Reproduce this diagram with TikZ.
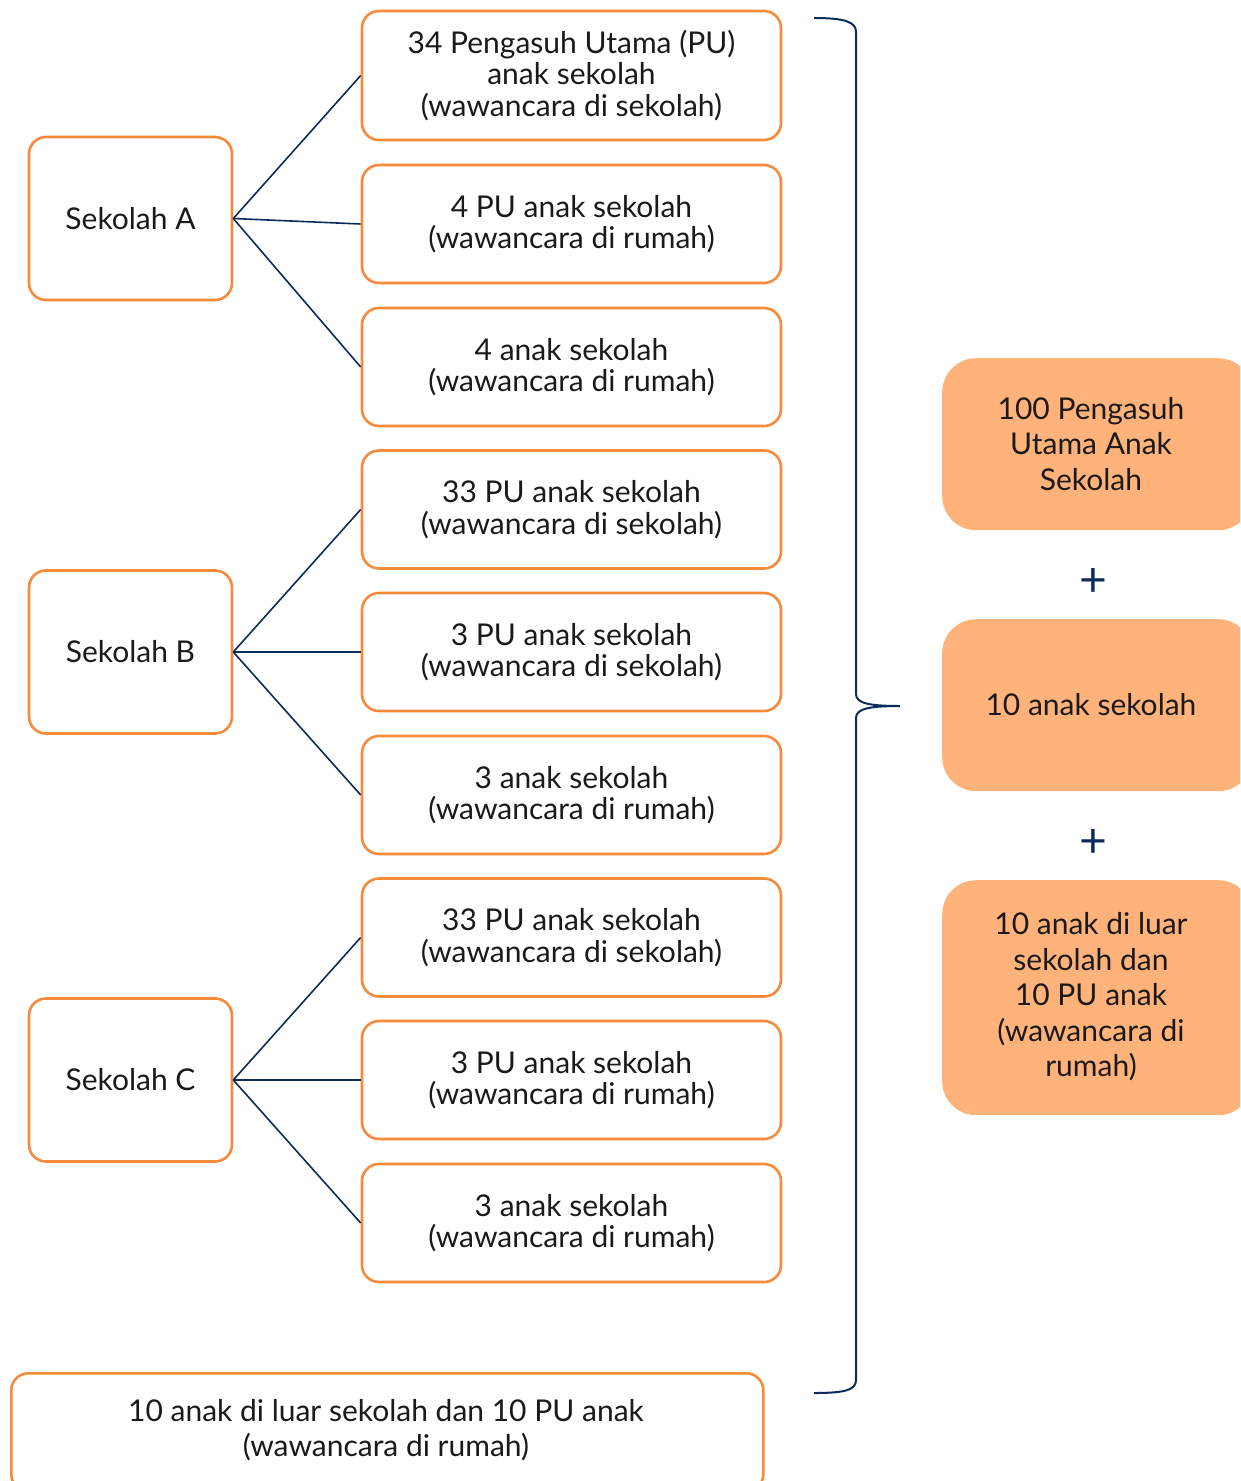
\documentclass[tikz,border=0pt]{standalone}
\usepackage{fontspec}
\setmainfont{Lato}
\definecolor{orng}{HTML}{F68B3C}
\definecolor{orfill}{HTML}{FFB27A}
\definecolor{navy}{HTML}{0B2D5B}
\definecolor{txt}{HTML}{1A1A1A}
\begin{document}
\begin{tikzpicture}[x=1pt,y=-1pt,
  every node/.style={font=\fontsize{30}{31.5}\selectfont, text=txt, align=center, inner sep=0pt},
  wide/.style={font=\fontsize{30}{35.5}\selectfont},
  obox/.style={draw=orng, line width=2.6pt, rounded corners=17pt, fill=white},
  sbox/.style={obox, minimum width=203pt, minimum height=163pt},
  ibox/.style={obox, minimum width=419pt, minimum height=118pt},
  rbox/.style={fill=orfill, rounded corners=34pt, minimum width=310pt},
  link/.style={draw=navy, line width=1.6pt},
  plus/.style={text=navy, font=\fontsize{48}{48}\selectfont}
]
\clip (0,0) rectangle (1240,1481);
\fill[white] (0,0) rectangle (1240,1481);

% school boxes
\node[sbox] (sa) at (130.5,218.5) {Sekolah A};
\node[sbox] (sb) at (130.5,652) {Sekolah B};
\node[sbox] (sc) at (130.5,1080) {Sekolah C};

% item boxes
\node[ibox, minimum height=129pt] (b1) at (571.5,75.5) {34 Pengasuh Utama (PU)\\anak sekolah\\(wawancara di sekolah)};
\node[ibox] (b2) at (571.5,224) {4 PU anak sekolah\\(wawancara di rumah)};
\node[ibox] (b3) at (571.5,367) {4 anak sekolah\\(wawancara di rumah)};
\node[ibox] (b4) at (571.5,509.5) {33 PU anak sekolah\\(wawancara di sekolah)};
\node[ibox] (b5) at (571.5,652) {3 PU anak sekolah\\(wawancara di sekolah)};
\node[ibox] (b6) at (571.5,795) {3 anak sekolah\\(wawancara di rumah)};
\node[ibox] (b7) at (571.5,937.5) {33 PU anak sekolah\\(wawancara di sekolah)};
\node[ibox] (b8) at (571.5,1080) {3 PU anak sekolah\\(wawancara di rumah)};
\node[ibox] (b9) at (571.5,1223) {3 anak sekolah\\(wawancara di rumah)};

% bottom box
\node[obox, minimum width=752pt, minimum height=118pt, anchor=north west] (bot) at (10,1372) {};
\node[wide] (bottxt) at (386,1430) {10 anak di luar sekolah dan 10 PU anak\\(wawancara di rumah)};

% links
\foreach \s/\a/\b/\c in {sa/b1/b2/b3, sb/b4/b5/b6, sc/b7/b8/b9}{
  \draw[link] (\s.east) -- (\a.west);
  \draw[link] (\s.east) -- (\b.west);
  \draw[link] (\s.east) -- (\c.west);
}

% brace
\coordinate (bt) at (814,18);
\coordinate (bm) at (900,706);
\coordinate (bb) at (814,1393);
\draw[navy, line width=2pt]
  (bt) .. controls (845,18) and (856,22) .. (856,32) -- (856,694)
  .. controls (856,703) and (868,706) .. (bm)
  .. controls (868,706) and (856,709) .. (856,718) -- (856,1380)
  .. controls (856,1390) and (845,1393) .. (bb);

% right boxes
\node[rbox, minimum height=172pt, anchor=north west] (r1) at (942,358) {};
\node[wide] (r1t) at (1091,444) {100 Pengasuh\\Utama Anak\\Sekolah};
\node[plus] (p1) at (1093,582) {+};
\node[rbox, minimum height=172pt, anchor=north west] (r2) at (942,619) {};
\node[wide] (r2t) at (1091,705) {10 anak sekolah};
\node[plus] (p2) at (1093,843) {+};
\node[rbox, minimum height=235pt, anchor=north west] (r3) at (942,880) {};
\node[wide] (r3t) at (1091,997) {10 anak di luar\\sekolah dan\\10 PU anak\\(wawancara di\\rumah)};
\end{tikzpicture}
\end{document}
